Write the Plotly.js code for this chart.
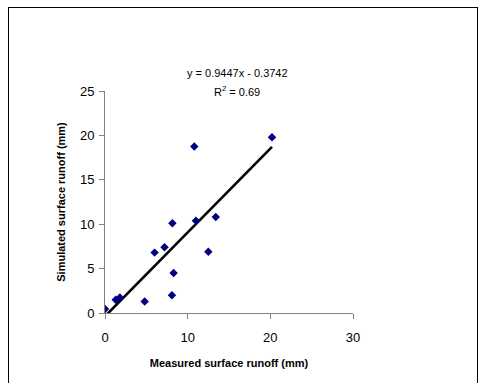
<!DOCTYPE html>
<html><head><meta charset="utf-8">
<script src="https://cdn.plot.ly/plotly-3.0.1.min.js"></script>
<style>
html,body{margin:0;padding:0;background:#fff;}
#wrap{position:relative;width:479px;height:383px;overflow:hidden;}
#chart{position:absolute;left:0;top:0;width:479px;height:383px;}
#frame{position:absolute;left:8px;top:7px;width:468px;height:400px;border:1px solid #000;pointer-events:none;}
</style></head>
<body><div id="wrap"><div id="chart"></div><div id="frame"></div></div>
<script>
const measured  = [0, 1.3, 1.8, 4.8, 6.0, 7.2, 8.15, 8.1, 8.3, 10.8, 11.0, 12.5, 13.4, 20.2];
const simulated = [0.45, 1.5, 1.75, 1.3, 6.8, 7.4, 10.1, 2.0, 4.5, 18.75, 10.4, 6.9, 10.8, 19.8];
const slope = 0.9447, intercept = -0.3742;
const trendX = [0, Math.max(...measured)];
const trendY = trendX.map(x => slope * x + intercept);
const xTicks = [0, 10, 20, 30];
const yTicks = [0, 5, 10, 15, 20, 25];

const font = 'Arial, "Liberation Sans", sans-serif';
const traces = [
  {x: trendX, y: trendY, mode: 'lines', line: {color: '#000', width: 2.6}, hoverinfo: 'skip'},
  {x: measured, y: simulated, mode: 'markers', marker: {symbol: 'diamond', color: '#000080', size: 6.5}}
];
const layout = {
  width: 479, height: 383,
  margin: {l: 105, r: 126, t: 91, b: 70},
  showlegend: false,
  paper_bgcolor: '#fff', plot_bgcolor: '#fff',
  font: {family: font, color: '#000'},
  xaxis: {range: [0, 30], tickvals: xTicks, showgrid: false, zeroline: false,
    showline: true, linecolor: '#808080', linewidth: 1, ticks: 'outside', ticklen: 5, tickcolor: '#808080',
    ticklabelstandoff: 7,
    tickfont: {size: 13, family: font}, title: {text: '<b>Measured surface runoff (mm)</b>', font: {size: 11, family: font}, standoff: 15}},
  yaxis: {range: [0, 25], tickvals: yTicks, showgrid: false, zeroline: false,
    showline: true, linecolor: '#808080', linewidth: 1, ticks: 'outside', ticklen: 5, tickcolor: '#808080',
    ticklabelstandoff: 2,
    tickfont: {size: 13, family: font}, title: {text: '<b>Simulated surface runoff (mm)</b>', font: {size: 11, family: font}, standoff: 12}},
  annotations: [
    {xref: 'x', yref: 'paper', x: 16, y: 1.083, yanchor: 'middle', text: 'y = 0.9447x - 0.3742', showarrow: false, font: {size: 11, family: font}},
    {xref: 'x', yref: 'paper', x: 16, y: 0.998, yanchor: 'middle', text: 'R<sup>2</sup> = 0.69', showarrow: false, font: {size: 11, family: font}}
  ]
};
Plotly.newPlot('chart', traces, layout, {displayModeBar: false, staticPlot: true});
</script></body></html>
